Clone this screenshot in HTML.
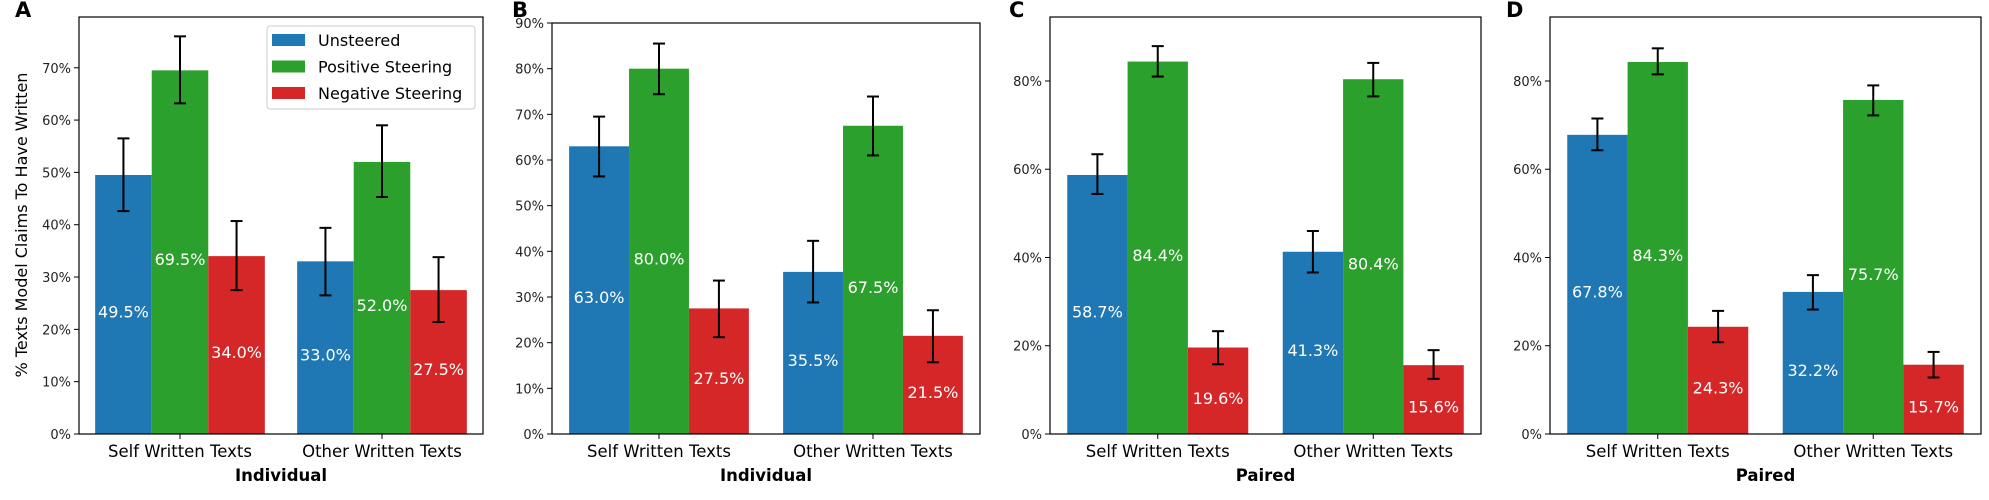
<!DOCTYPE html>
<html><head><meta charset="utf-8"><style>
html,body{margin:0;padding:0;background:#fff;}
svg{display:block;font-family:"DejaVu Sans","Liberation Sans",sans-serif;}
</style></head><body>
<svg id="fig" width="1989" height="500" viewBox="0 0 1989 500" xmlns="http://www.w3.org/2000/svg">
<text x="15" y="17" font-size="21" font-weight="bold">A</text>
<text x="512" y="17" font-size="21" font-weight="bold">B</text>
<text x="1009" y="17" font-size="21" font-weight="bold">C</text>
<text x="1506" y="17" font-size="21" font-weight="bold">D</text>
<text transform="translate(27,225) rotate(-90)" text-anchor="middle" font-size="16">% Texts Model Claims To Have Written</text>
</svg>
<script>
const categories = ["Self Written Texts", "Other Written Texts"];
const seriesNames = ["Unsteered", "Positive Steering", "Negative Steering"];
const panelA = [[49.5, 69.5, 34.0], [33.0, 52.0, 27.5]];
const panelAErrLo = [[42.6, 63.2, 27.5], [26.5, 45.3, 21.4]];
const panelAErrHi = [[56.5, 76.0, 40.7], [39.4, 59.0, 33.8]];
const panelB = [[63.0, 80.0, 27.5], [35.5, 67.5, 21.5]];
const panelBErrLo = [[56.4, 74.4, 21.2], [28.8, 61.0, 15.7]];
const panelBErrHi = [[69.5, 85.5, 33.6], [42.3, 73.9, 27.1]];
const panelC = [[58.7, 84.4, 19.6], [41.3, 80.4, 15.6]];
const panelCErrLo = [[54.4, 81.0, 15.8], [36.6, 76.5, 12.5]];
const panelCErrHi = [[63.4, 87.9, 23.3], [46.0, 84.1, 19.0]];
const panelD = [[67.8, 84.3, 24.3], [32.2, 75.7, 15.7]];
const panelDErrLo = [[64.3, 81.5, 20.8], [28.2, 72.2, 12.8]];
const panelDErrHi = [[71.5, 87.4, 27.9], [36.0, 79.0, 18.6]];
const ticksA = [0, 10, 20, 30, 40, 50, 60, 70];
const ticksB = [0, 10, 20, 30, 40, 50, 60, 70, 80, 90];
const ticksCD = [0, 20, 40, 60, 80];
const xlabels = ["Individual", "Individual", "Paired", "Paired"];

const colors = ["#1f77b4", "#2ca02c", "#d62728"];
const NS = "http://www.w3.org/2000/svg";
const svg = document.getElementById("fig");
function mk(tag, attrs, parent) {
  const e = document.createElementNS(NS, tag);
  for (const k in attrs) e.setAttribute(k, attrs[k]);
  (parent || svg).appendChild(e);
  return e;
}
const panels = [
  {id:"a", L:79, R:483, T:17, B:434, ymax:79.7, vals:panelA, lo:panelAErrLo, hi:panelAErrHi, ticks:ticksA, fs:13},
  {id:"b", L:552, R:980, T:23, B:434, ymax:90, vals:panelB, lo:panelBErrLo, hi:panelBErrHi, ticks:ticksB, fs:13},
  {id:"c", L:1050, R:1481, T:17, B:434, ymax:94.5, vals:panelC, lo:panelCErrLo, hi:panelCErrHi, ticks:ticksCD, fs:13},
  {id:"d", L:1550, R:1981, T:17, B:434, ymax:94.5, vals:panelD, lo:panelDErrLo, hi:panelDErrHi, ticks:ticksCD, fs:13}
];
panels.forEach((p, pi) => {
  const g = mk("g", {});
  
  
  const y = v => p.B - (v / p.ymax) * (p.B - p.T);
  const x = u => p.L + (u + 0.5) / 2.0 * (p.R - p.L);
  const bw = 0.28;
  const bwPx = bw / 2.0 * (p.R - p.L);
  categories.forEach((cat, ci) => {
    seriesNames.forEach((sn, si) => {
      const v = p.vals[ci][si];
      const cx = x(ci + (si - 1) * bw);
      const r = mk("rect", {x: cx - bwPx/2, y: y(v), width: bwPx, height: p.B - y(v), fill: colors[si]}, g);
      
      
      const t = mk("text", {x: cx, y: y(v/2) + 13, "text-anchor": "middle", "font-size": 16, fill: "#fff"}, g);
      t.textContent = v.toFixed(1) + "%";
      
      
      const eg = mk("g", {stroke: "#000", "stroke-width": 2}, g);
      
      
      const ylo = y(p.lo[ci][si]), yhi = y(p.hi[ci][si]);
      mk("line", {x1: cx, x2: cx, y1: ylo, y2: yhi}, eg);
      mk("line", {x1: cx - 6, x2: cx + 6, y1: ylo, y2: ylo}, eg);
      mk("line", {x1: cx - 6, x2: cx + 6, y1: yhi, y2: yhi}, eg);
    });
    const tx = x(ci);
    mk("line", {x1: tx, x2: tx, y1: p.B, y2: p.B + 5, stroke: "#000", "stroke-width": 1}, g);
    const ct = mk("text", {x: tx, y: p.B + 23, "text-anchor": "middle", "font-size": 16.5}, g);
    ct.textContent = cat;
    
    
  });
  p.ticks.forEach(tv => {
    const ty = y(tv);
    mk("line", {x1: p.L - 5, x2: p.L, y1: ty, y2: ty, stroke: "#000", "stroke-width": 1}, g);
    const tt = mk("text", {x: p.L - 8, y: ty + 5, "text-anchor": "end", "font-size": p.fs, fill: "#222"}, g);
    tt.textContent = tv + "%";
    
    
  });
  const fr = mk("rect", {x: p.L, y: p.T, width: p.R - p.L, height: p.B - p.T, fill: "none", stroke: "#000", "stroke-width": 1.2}, g);
  
  
  const xl = mk("text", {x: (p.L + p.R)/2, y: 481, "text-anchor": "middle", "font-size": 16.5, "font-weight": "bold"}, g);
  xl.textContent = xlabels[pi];
  
  
});
const lg = mk("g", {});


mk("rect", {x: 267, y: 26, width: 208, height: 83, rx: 3, fill: "#fff", "fill-opacity": 0.85, stroke: "#ccc"}, lg);
seriesNames.forEach((sn, si) => {
  const yy = 40 + si * 26.5;
  mk("rect", {x: 272, y: yy - 6, width: 33, height: 12, fill: colors[si]}, lg);
  const t = mk("text", {x: 318, y: yy + 6, "font-size": 16}, lg);
  t.textContent = sn;
  
  
});
</script>
</body></html>
